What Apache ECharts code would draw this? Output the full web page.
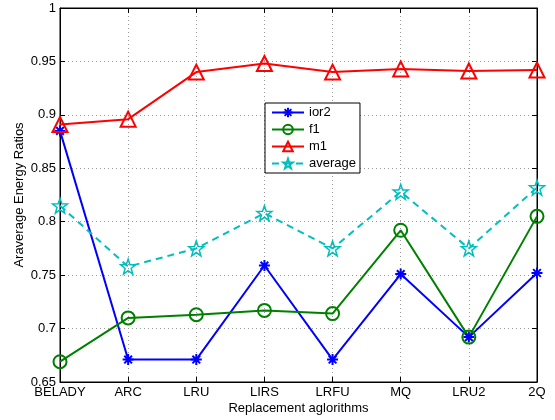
<!DOCTYPE html>
<html>
<head>
<meta charset="utf-8">
<script src="https://cdn.jsdelivr.net/npm/echarts@6/dist/echarts.min.js"></script>
<style>html,body{margin:0;padding:0;background:#fff}#c{width:555px;height:420px}</style>
</head>
<body>
<div id="c"></div>
<script>
var categories = ['BELADY','ARC','LRU','LIRS','LRFU','MQ','LRU2','2Q'];
var ior2    = [0.885, 0.671, 0.671, 0.759, 0.671, 0.751, 0.692, 0.752];
var f1      = [0.669, 0.710, 0.713, 0.717, 0.714, 0.792, 0.692, 0.805];
var m1      = [0.891, 0.896, 0.940, 0.948, 0.940, 0.943, 0.941, 0.942];
var average = [0.815, 0.758, 0.775, 0.808, 0.775, 0.828, 0.775, 0.832];
var yTicks  = {min: 0.65, max: 1, interval: 0.05};

var FONT = 'Liberation Sans';
var FS = 13;
var asterisk = 'path://M0,-10L0,10M-10,0L10,0M-7,-7L7,7M-7,7L7,-7';
var star = 'path://M0,-10L2.35,-3.24L9.51,-3.09L3.8,1.24L5.88,8.09L0,4L-5.88,8.09L-3.8,1.24L-9.51,-3.09L-2.35,-3.24Z';

function mk(name, data, color, symbol, size, dashed, fillColor, bw) {
  return {
    name: name, type: 'line', data: data, symbol: symbol, symbolSize: size,
    showAllSymbol: true,
    lineStyle: {color: color, width: 2, type: dashed ? [7, 5] : 'solid'},
    itemStyle: {color: fillColor, borderColor: color, borderWidth: bw},
    emphasis: {disabled: true},
    animation: false
  };
}

var chart = echarts.init(document.getElementById('c'), null, {renderer: 'canvas'});
var splitStyle = {show: true, lineStyle: {color: '#999', type: [1, 3], width: 1}};
chart.setOption({
  backgroundColor: '#fff',
  textStyle: {fontFamily: FONT},
  grid: {left: 60, right: 18, top: 8, bottom: 35, show: true, borderColor: '#000', borderWidth: 1, containLabel: false},
  legend: {
    orient: 'vertical', left: 265, top: 103,
    backgroundColor: '#fff', borderColor: '#000', borderWidth: 1,
    padding: [3, 4, 3, 6], itemGap: 4, itemWidth: 32, itemHeight: 12,
    textStyle: {fontFamily: FONT, fontSize: FS, color: '#000'},
    data: ['ior2', 'f1', 'm1', 'average']
  },
  xAxis: [{
    type: 'category', data: categories, boundaryGap: false,
    name: 'Replacement aglorithms', nameLocation: 'middle', nameGap: 20, nameMoveOverlap: false,
    nameTextStyle: {fontFamily: FONT, fontSize: FS, color: '#000'},
    axisLine: {lineStyle: {color: '#000'}},
    axisTick: {inside: true, length: 5, lineStyle: {color: '#000'}},
    axisLabel: {fontFamily: FONT, fontSize: FS, color: '#000', margin: 4},
    splitLine: splitStyle
  }, {
    type: 'category', data: categories, boundaryGap: false, position: 'top',
    axisLine: {lineStyle: {color: '#000'}},
    axisTick: {inside: true, length: 5, lineStyle: {color: '#000'}},
    axisLabel: {show: false}, splitLine: {show: false}
  }],
  yAxis: [{
    type: 'value', min: yTicks.min, max: yTicks.max, interval: yTicks.interval,
    name: 'Araverage Energy Ratios', nameLocation: 'middle', nameGap: 34, nameMoveOverlap: false,
    nameTextStyle: {fontFamily: FONT, fontSize: FS, color: '#000'},
    axisLine: {show: true, lineStyle: {color: '#000'}},
    axisTick: {show: true, inside: true, length: 5, lineStyle: {color: '#000'}},
    axisLabel: {fontFamily: FONT, fontSize: FS, color: '#000', margin: 4,
      formatter: function (v) { return String(parseFloat(v.toFixed(2))); }},
    splitLine: splitStyle
  }, {
    type: 'value', min: yTicks.min, max: yTicks.max, interval: yTicks.interval, position: 'right',
    axisLine: {show: true, lineStyle: {color: '#000'}},
    axisTick: {show: true, inside: true, length: 5, lineStyle: {color: '#000'}},
    axisLabel: {show: false}, splitLine: {show: false}
  }],
  series: [
    mk('ior2', ior2, '#0000ff', asterisk, 11, false, '#0000ff', 2),
    mk('f1', f1, '#008000', 'circle', 13, false, 'rgba(255,255,255,0)', 2),
    mk('m1', m1, '#ff0000', 'triangle', 15, false, 'rgba(255,255,255,0)', 2),
    mk('average', average, '#00bfbf', star, 15, true, 'rgba(255,255,255,0)', 1.5)
  ]
});
</script>
</body>
</html>
